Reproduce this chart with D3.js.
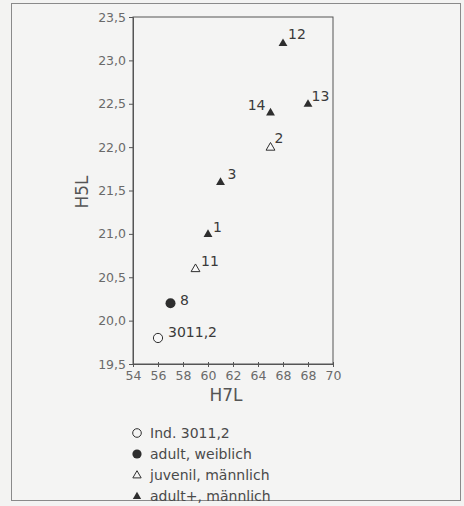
<!DOCTYPE html>
<html><head><meta charset="utf-8">
<script src="https://cdn.jsdelivr.net/npm/d3@7"></script>
<style>body{margin:0;background:#f3f3f2;}svg{display:block;font-family:"DejaVu Sans",sans-serif;}</style>
</head><body>
<svg id="c" width="464" height="506"></svg>
<script>
const labels = ["12","13","14","2","3","1","11","8","3011,2"];
const xValues = [66, 68, 65, 65, 61, 60, 59, 57, 56];
const yValues = [23.2, 22.5, 22.4, 22.0, 21.6, 21.0, 20.6, 20.2, 19.8];
const groups = ["adultM","adultM","adultM","juvM","adultM","adultM","juvM","adultF","ind"];
const xTicks = [54,56,58,60,62,64,66,68,70];
const xTickLabels = ["54","56","58","60","62","64","68","68","70"];
const yTicks = [19.5,20.0,20.5,21.0,21.5,22.0,22.5,23.0,23.5];
const legendKeys = ["ind","adultF","juvM","adultM"];
const legendLabels = ["Ind. 3011,2","adult, weiblich","juvenil, männlich","adult+, männlich"];

const svg = d3.select("#c");
const ink = "#2e2e2e";
svg.append("rect").attr("x",11.5).attr("y",3.5).attr("width",449).attr("height",497)
  .attr("fill","#f4f4f3").attr("stroke","#8a8a8a").attr("stroke-width",1);

const x = d3.scaleLinear().domain([54,70]).range([133,333]);
const y = d3.scaleLinear().domain([19.5,23.5]).range([364,17]);

svg.append("rect").attr("x",133).attr("y",17).attr("width",200).attr("height",347)
  .attr("fill","none").attr("stroke","#555").attr("stroke-width",1);

const fmt = d => d3.format(".1f")(d).replace(".",",");
const yAxis = svg.append("g").attr("transform","translate(133,0)")
  .call(d3.axisLeft(y).tickValues(yTicks).tickFormat(fmt).tickSize(4).tickPadding(3));
const xAxis = svg.append("g").attr("transform","translate(0,364)")
  .call(d3.axisBottom(x).tickValues(xTicks).tickFormat((d,i)=>xTickLabels[i]).tickSize(3).tickPadding(4));
[xAxis,yAxis].forEach(a=>{
  a.select(".domain").attr("stroke","#555");
  a.selectAll(".tick line").attr("stroke","#555");
  a.selectAll("text").attr("fill","#6a6a6a").attr("font-size",12.5).attr("font-family","'DejaVu Sans',sans-serif");
});
xAxis.selectAll(".tick line").attr("y1",-2);

svg.append("text").attr("x",226).attr("y",401).attr("text-anchor","middle")
  .attr("font-size",17).attr("fill","#555").text("H7L");
svg.append("text").attr("transform","translate(88,192) rotate(-90)").attr("text-anchor","middle")
  .attr("font-size",17).attr("fill","#555").text("H5L");

const tri = d3.symbol().type(d3.symbolTriangle).size(34);
function drawSym(g, key){
  if(key==="ind") g.append("circle").attr("r",4.6).attr("fill","#f8f8f8").attr("stroke",ink).attr("stroke-width",1);
  else if(key==="adultF") g.append("circle").attr("r",5).attr("fill",ink);
  else if(key==="juvM") g.append("path").attr("d",tri).attr("fill","#f8f8f8").attr("stroke",ink).attr("stroke-width",1).attr("transform","translate(0,0.5)");
  else g.append("path").attr("d",tri).attr("fill",ink).attr("transform","translate(0,0.5)");
}
const labelOff = {"12":[5,-4,"start"],"13":[3.5,-3,"start"],"14":[-5,-2,"end"],"2":[4,-4,"start"],"3":[7,-3,"start"],"1":[5,-2,"start"],"11":[5.5,-3,"start"],"8":[9.5,2,"start"],"3011,2":[10,-1,"start"]};
labels.forEach((l,i)=>{
  const g = svg.append("g").attr("transform",`translate(${x(xValues[i])},${y(yValues[i])})`);
  drawSym(g, groups[i]);
  const o = labelOff[l];
  g.append("text").attr("x",o[0]).attr("y",o[1]).attr("text-anchor",o[2]).attr("font-size",14).attr("fill","#3a3a3a").text(l);
});

legendKeys.forEach((k,i)=>{
  const yy = 433 + i*21;
  const g = svg.append("g").attr("transform",`translate(137,${yy})`);
  if(k==="ind") g.append("circle").attr("r",4.3).attr("fill","none").attr("stroke",ink);
  else if(k==="adultF") g.append("circle").attr("r",4.6).attr("fill",ink);
  else if(k==="juvM") g.append("path").attr("d",d3.symbol().type(d3.symbolTriangle).size(30)).attr("fill","none").attr("stroke",ink).attr("transform","translate(0,0.5)");
  else g.append("path").attr("d",d3.symbol().type(d3.symbolTriangle).size(30)).attr("fill",ink).attr("transform","translate(0,0.5)");
  svg.append("text").attr("x",150).attr("y",yy+5).attr("font-size",14).attr("fill","#4a4a4a").text(legendLabels[i]);
});
</script>
</body></html>
